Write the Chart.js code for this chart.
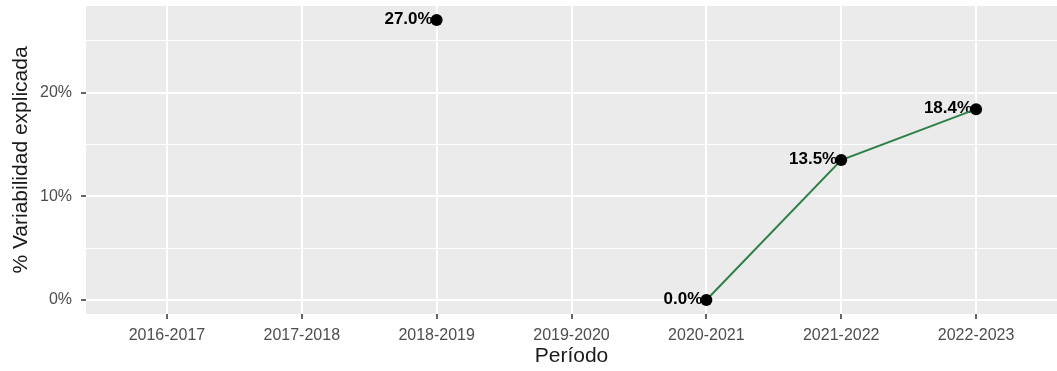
<!DOCTYPE html>
<html>
<head>
<meta charset="utf-8">
<script src="https://cdn.jsdelivr.net/npm/chart.js@4"></script>
<style>
  body { margin: 0; background: #fff; }
  #wrap { width: 1057px; height: 371px; }
</style>
</head>
<body>
<div id="wrap"><canvas id="chart"></canvas></div>
<script>
const periods = ["2016-2017", "2017-2018", "2018-2019", "2019-2020", "2020-2021", "2021-2022", "2022-2023"];
const explained = [null, null, 27.0, null, 0.0, 13.5, 18.4];
const yTicks = [0, 5, 10, 15, 20, 25];

const panelBg = {
  id: "panelBg",
  beforeDraw(chart) {
    const {ctx, chartArea: a} = chart;
    ctx.save();
    ctx.fillStyle = "#EBEBEB";
    ctx.fillRect(a.left, a.top, a.right - a.left, a.bottom - a.top);
    ctx.restore();
  }
};

const pointLabels = {
  id: "pointLabels",
  beforeDatasetsDraw(chart) {
    const ctx = chart.ctx;
    const meta = chart.getDatasetMeta(0);
    ctx.save();
    ctx.font = "bold 17px 'Liberation Sans', Arial, sans-serif";
    ctx.fillStyle = "#000";
    ctx.textAlign = "right";
    ctx.textBaseline = "middle";
    meta.data.forEach((pt, i) => {
      const v = explained[i];
      if (v === null) return;
      ctx.fillText(v.toFixed(1) + "%", pt.x - 4, pt.y - 1);
    });
    ctx.restore();
  }
};

const isMajor = v => v % 10 === 0;

new Chart(document.getElementById("chart"), {
  type: "line",
  data: {
    datasets: [{
      data: periods.map((p, i) => ({x: i, y: explained[i]})),
      borderColor: "#2E8049",
      borderWidth: 2,
      pointRadius: 6,
      pointBackgroundColor: "#000",
      pointBorderWidth: 0,
      spanGaps: false,
      tension: 0
    }]
  },
  plugins: [panelBg, pointLabels],
  options: {
    responsive: true, maintainAspectRatio: false, animation: false,
    layout: {autoPadding: false, padding: {top: 6, right: 0, left: 0, bottom: 0}},
    plugins: {legend: {display: false}, tooltip: {enabled: false}},
    events: [],
    scales: {
      x: {
        type: "linear", min: -0.6, max: 6.6,
        afterBuildTicks: s => { s.ticks = periods.map((p, i) => ({value: i})); },
        afterFit: s => { s.height = 57; s.paddingLeft = 0; s.paddingRight = 0; },
        ticks: {color: "#4D4D4D", font: {size: 16, family: "'Liberation Sans', Arial, sans-serif"}, padding: 7,
          callback: v => periods[v]},
        grid: {color: "#fff", lineWidth: 2, tickLength: 5, tickColor: "#333", tickWidth: 1.5},
        border: {display: false},
        title: {display: true, text: "Período", color: "#1a1a1a", font: {size: 21, family: "'Liberation Sans', Arial, sans-serif"}, padding: {top: 0, bottom: 2}}
      },
      y: {
        min: -1.35, max: 28.35,
        afterBuildTicks: s => { s.ticks = yTicks.map(v => ({value: v})); },
        afterFit: s => { s.width = 86; s.paddingTop = 0; s.paddingBottom = 0; },
        ticks: {color: "#4D4D4D", font: {size: 16, family: "'Liberation Sans', Arial, sans-serif"}, padding: 9,
          callback: v => isMajor(v) ? v + "%" : ""},
        grid: {
          color: "#fff",
          lineWidth: c => isMajor(c.tick.value) ? 2 : 1,
          tickLength: 5,
          tickColor: c => isMajor(c.tick.value) ? "#333" : "rgba(0,0,0,0)",
          tickWidth: 1.5
        },
        border: {display: false},
        title: {display: true, text: "% Variabilidad explicada", color: "#1a1a1a", font: {size: 21, family: "'Liberation Sans', Arial, sans-serif"}, padding: {top: 9, bottom: 0}}
      }
    }
  }
});
</script>
</body>
</html>
